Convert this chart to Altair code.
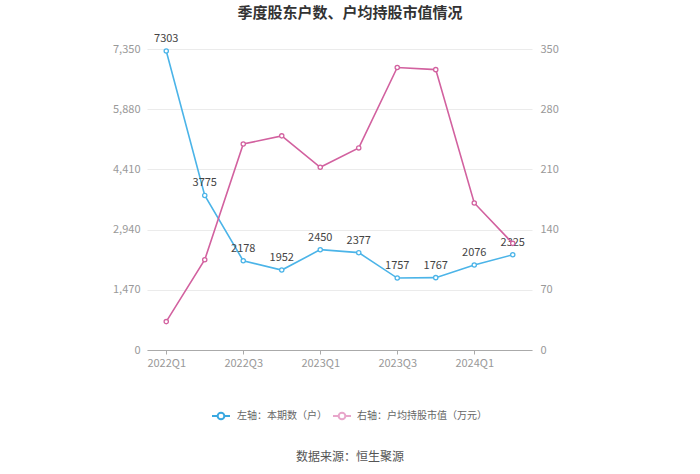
import altair as alt
import pandas as pd

quarters = ["2022Q1", "2022Q2", "2022Q3", "2022Q4", "2023Q1", "2023Q2",
            "2023Q3", "2023Q4", "2024Q1", "2024Q2"]
holders = [7303, 3775, 2178, 1952, 2450, 2377, 1757, 1767, 2076, 2325]
avg_value = [33, 105, 239.5, 249, 212.5, 235, 328.5, 326, 171, 124]
left_ticks = [0, 1470, 2940, 4410, 5880, 7350]
right_ticks = [0, 70, 140, 210, 280, 350]
x_labels = ["2022Q1", "2022Q3", "2023Q1", "2023Q3", "2024Q1"]

BLUE = "#4BB4E8"
PINK = "#D2619F"
FONT = "Noto Sans CJK SC"

df = pd.DataFrame({"q": quarters, "holders": holders, "value": avg_value})

x = alt.X("q:N", sort=quarters, title=None,
          scale=alt.Scale(type="point", padding=0.5),
          axis=alt.Axis(values=x_labels, labelAngle=0, labelColor="#999",
                        labelFontSize=11, labelFont=FONT, domainColor="#aaa",
                        tickColor="#aaa", tickSize=4, labelPadding=3, grid=False))

y_left = alt.Y("holders:Q", title=None,
               scale=alt.Scale(domain=[0, 7350], nice=False),
               axis=alt.Axis(values=left_ticks, format=",.0f", labelColor="#999",
                             labelFontSize=11, labelFont=FONT, domain=False, ticks=False,
                             labelPadding=7, gridColor="#EBEBEB", orient="left"))
y_right = alt.Y("value:Q", title=None,
                scale=alt.Scale(domain=[0, 350], nice=False),
                axis=alt.Axis(values=right_ticks, format="d", labelColor="#999",
                              labelFontSize=11, labelFont=FONT, domain=False, ticks=False,
                              labelPadding=8, grid=False, orient="right"))

base = alt.Chart(df)

left_line = base.mark_line(color=BLUE, strokeWidth=1.6).encode(x=x, y=y_left)
left_pts = base.mark_point(color=BLUE, fill="white", filled=True, stroke=BLUE,
                           strokeWidth=1.3, size=18, opacity=1).encode(x=x, y=y_left)
left_txt = base.mark_text(dy=-12, fontSize=11, color="#444", font=FONT).encode(
    x=x, y=y_left, text="holders:Q")
left = alt.layer(left_line, left_pts, left_txt)

right_line = base.mark_line(color=PINK, strokeWidth=1.6).encode(x=x, y=y_right)
right_pts = base.mark_point(color=PINK, fill="white", filled=True, stroke=PINK,
                            strokeWidth=1.3, size=18, opacity=1).encode(x=x, y=y_right)
right = alt.layer(right_line, right_pts)

# title, legend and source as annotation marks
ann = alt.Chart(pd.DataFrame({"a": [0]}))
title = ann.mark_text(text="季度股东户数、户均持股市值情况", font=FONT, fontSize=15,
                      fontWeight="bold", color="#333", align="center",
                      baseline="middle").encode(x=alt.value(203), y=alt.value(-36))
source = ann.mark_text(text="数据来源：恒生聚源", font=FONT, fontSize=12,
                       color="#555", align="center", baseline="middle").encode(
    x=alt.value(203), y=alt.value(408))
leg_b_line = ann.mark_rule(color="#3AA8E0", strokeWidth=2).encode(
    x=alt.value(65), x2=alt.value(83), y=alt.value(367))
leg_b_pt = ann.mark_point(color="#3AA8E0", fill="white", filled=True, stroke="#3AA8E0",
                          strokeWidth=2, size=45, opacity=1).encode(
    x=alt.value(74), y=alt.value(367))
leg_b_txt = ann.mark_text(text="左轴：本期数（户）", font=FONT, fontSize=10, color="#666",
                          align="left", baseline="middle").encode(
    x=alt.value(90), y=alt.value(367))
leg_p_line = ann.mark_rule(color="#E8A6CB", strokeWidth=2).encode(
    x=alt.value(186), x2=alt.value(204), y=alt.value(367))
leg_p_pt = ann.mark_point(color="#E8A6CB", fill="white", filled=True, stroke="#E8A6CB",
                          strokeWidth=2, size=45, opacity=1).encode(
    x=alt.value(195), y=alt.value(367))
leg_p_txt = ann.mark_text(text="右轴：户均持股市值（万元）", font=FONT, fontSize=10,
                          color="#666", align="left", baseline="middle").encode(
    x=alt.value(210), y=alt.value(367))
annotations = alt.layer(title, source, leg_b_line, leg_b_pt, leg_b_txt,
                        leg_p_line, leg_p_pt, leg_p_txt)

chart = alt.layer(left, right, annotations).resolve_scale(y="independent").properties(
    width=385, height=301,
    autosize=alt.AutoSizeParams(type="none"),
    padding={"left": 147, "top": 49, "right": 168, "bottom": 124},
    background="white",
).configure_view(stroke=None)

chart.save("out.html", embed_options={"renderer": "svg", "actions": False})
